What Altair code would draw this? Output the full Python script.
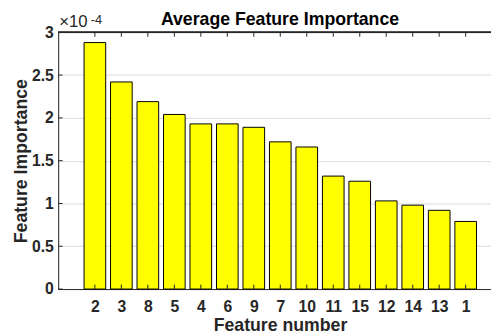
import json
import altair as alt
import pandas as pd

# Feature numbers in plotted order and their average importance (real units)
features = ["2", "3", "8", "5", "4", "6", "9", "7", "10", "11", "15", "12", "14", "13", "1"]
importance = [2.88e-4, 2.42e-4, 2.19e-4, 2.04e-4, 1.93e-4, 1.93e-4, 1.89e-4, 1.72e-4,
              1.66e-4, 1.32e-4, 1.26e-4, 1.03e-4, 0.98e-4, 0.92e-4, 0.79e-4]
y_ticks = [0, 0.5e-4, 1.0e-4, 1.5e-4, 2.0e-4, 2.5e-4, 3.0e-4]
title_text = "Average Feature Importance"

W, H = 440, 261
FONT = "Liberation Sans"
TXT = "#262626"

df = pd.DataFrame({"idx": list(range(1, len(features) + 1)),
                   "feature": features, "imp": importance})
df_ticks = pd.DataFrame({"imp": y_ticks})

label_expr = json.dumps(features) + "[datum.value - 1]"

x_scale = alt.Scale(domain=[-0.2, 15.77], nice=False, zero=False)
y_scale = alt.Scale(domain=[0, 3e-4], nice=False)

x_axis = alt.Axis(values=list(range(1, len(features) + 1)), labelExpr=label_expr,
                  title="Feature number", grid=False, ticks=False, tickSize=0,
                  labelPadding=10, labelFontSize=16, labelFontWeight="bold",
                  labelOverlap=False, labelSeparation=0, labelBound=False,
                  labelColor=TXT, labelFont=FONT, titleFont=FONT,
                  titleFontSize=18, titleFontWeight="bold", titleColor=TXT,
                  titlePadding=2, titleX=225.5, domainColor=TXT, domainWidth=1,
                  labelAngle=0)
y_axis = alt.Axis(values=y_ticks, labelExpr="format(datum.value * 10000, '.2~f')",
                  title="Feature Importance", grid=True, gridColor="#dcdcdc",
                  gridWidth=1, ticks=False, tickSize=0, labelPadding=5,
                  labelOverlap=False, labelFontSize=16, labelFontWeight="bold",
                  labelColor=TXT, labelFont=FONT, titleFont=FONT, titleFontSize=18,
                  titleFontWeight="bold", titleColor=TXT, titlePadding=1,
                  domainColor=TXT, domainWidth=1)

X = alt.X("idx:Q", scale=x_scale, axis=x_axis)
Y = alt.Y("imp:Q", scale=y_scale, axis=y_axis)

bars = alt.Chart(df).mark_bar(size=22, fill="#FFFF00", stroke="black", strokeWidth=1).encode(
    x=X, y=Y)

bottom_ticks = alt.Chart(df).mark_rule(color=TXT, strokeWidth=1).encode(
    x=X, y=alt.value(H - 4.5), y2=alt.value(H))
top_ticks = alt.Chart(df).mark_rule(color=TXT, strokeWidth=1).encode(
    x=X, y=alt.value(0), y2=alt.value(4.5))
left_ticks = alt.Chart(df_ticks).mark_rule(color=TXT, strokeWidth=1).encode(
    y=Y, x=alt.value(0), x2=alt.value(4.5))
top_line = alt.Chart(df_ticks).mark_rule(color=TXT, strokeWidth=1).encode(
    x=alt.value(0), x2=alt.value(W), y=alt.value(0))

one = df_ticks.head(1)
exp_base = alt.Chart(one).mark_text(
    text="×10", font=FONT, fontSize=17, color=TXT, align="left", baseline="alphabetic"
).encode(x=alt.value(1), y=alt.value(-5.5))
exp_pow = alt.Chart(one).mark_text(
    text="-4", font=FONT, fontSize=13, color=TXT, align="left", baseline="alphabetic"
).encode(x=alt.value(33), y=alt.value(-8.5))
title = alt.Chart(one).mark_text(
    text=title_text, font=FONT, fontSize=18, fontWeight="bold", color="black",
    align="center", baseline="alphabetic"
).encode(x=alt.value(225.5), y=alt.value(-7.5))

chart = alt.layer(bars, bottom_ticks, top_ticks, left_ticks, top_line,
                  exp_base, exp_pow, title).properties(
    width=W, height=H,
    autosize=alt.AutoSizeParams(type="none"),
    padding={"left": 51, "top": 22, "right": 0, "bottom": 44},
).configure_view(stroke=None).configure(background="white")

chart.save("out.html", embed_options={"renderer": "svg", "actions": False})
